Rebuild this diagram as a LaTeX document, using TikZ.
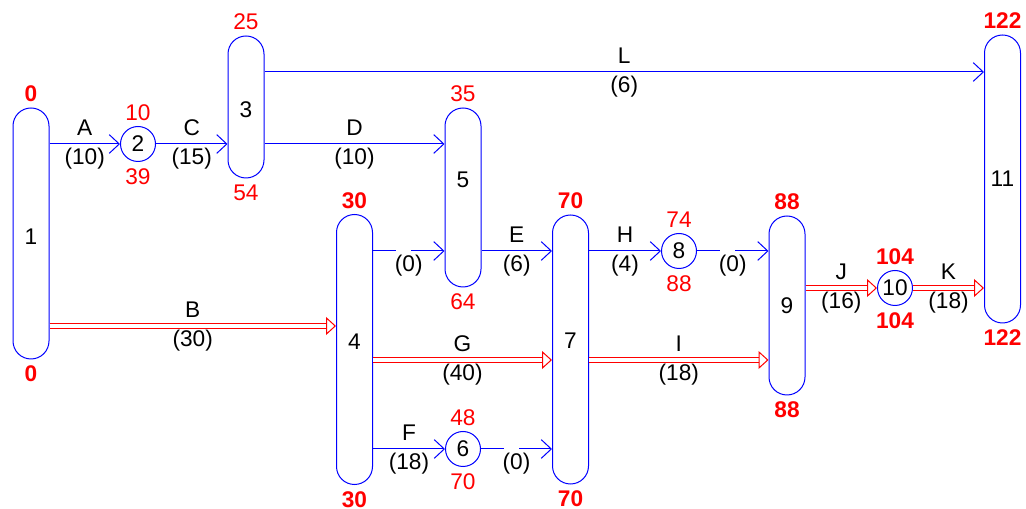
\documentclass[tikz,border=0pt]{standalone}
\usepackage{fontspec}
\setmainfont{Liberation Sans}
\usetikzlibrary{arrows.meta}

\begin{document}
\begin{tikzpicture}[
  x=0.75pt, y=-0.75pt,
  every node/.style={font=\fontsize{17}{20}\selectfont},
  evt/.style={draw=blue, line width=0.75pt, rounded corners=13.5pt, minimum width=27pt, inner sep=0pt},
  ring/.style={draw=blue, line width=0.75pt, circle, minimum size=26.25pt, inner sep=0pt},
  tup/.style={red, inner sep=1pt, label distance=3pt},
  tdn/.style={red, inner sep=0pt, label distance=4.6pt},
  crit/.style={font=\fontsize{17}{20}\selectfont\bfseries},
  lab/.style={above=6pt, inner sep=0pt},
  dur/.style={below=2.5pt, inner sep=0pt},
  act/.style={draw=blue, line width=0.75pt, -{Straight Barb[length=7.5pt, width=14pt]}},
  dummy/.style={act, dash pattern=on 17.25pt off 11.25pt on 400pt},
  cact/.style={draw=red, line width=0.75pt, double=white, double distance=3pt,
    -{Triangle[open, fill=white, length=7.5pt, width=13.5pt]}}
]
\useasboundingbox (0,0) rectangle (1026,509);

% events
\node[evt, minimum height=188.25pt, label={[tup,crit]above:0}, label={[tdn,crit]below:0},
  label={[yshift=-2.6pt]center:1}] (n1) at (31,233.5) {};
\node[ring, label={[tup]above:10}, label={[tdn]below:39}] (n2) at (138,144) {2};
\node[evt, minimum height=106.5pt, label={[tup]above:25}, label={[tdn]below:54},
  label={[yshift=-2.2pt]center:3}] (n3) at (246,107) {};
\node[evt, minimum height=202.5pt, label={[tup,crit]above:30}, label={[tdn,crit]below:30},
  label={[yshift=6pt]center:4}] (n4) at (354.5,349.5) {};
\node[evt, minimum height=134.25pt, label={[tup]above:35}, label={[tdn]below:64},
  label={[yshift=13.1pt]center:5}] (n5) at (463,197.5) {};
\node[ring, label={[tup]above:48}, label={[tdn]below:70}] (n6) at (463,449) {6};
\node[evt, minimum height=201.75pt, label={[tup,crit]above:70}, label={[tdn,crit]below:70},
  label={[yshift=6.4pt]center:7}] (n7) at (570.5,349.5) {};
\node[ring, label={[tup]above:74}, label={[tdn]below:88}] (n8) at (679,251) {8};
\node[evt, minimum height=134.25pt, label={[tup,crit]above:88}, label={[tdn,crit]below:88},
  label={center:9}] (n9) at (787,305.5) {};
\node[ring, label={[tup,crit]above:104}, label={[tdn,crit]below:104}] (n10) at (895,288) {10};
\node[evt, minimum height=216pt, label={[tup,crit]above:122}, label={[tdn,crit]below:122},
  label={center:11}] (n11) at (1002.5,179) {};

% rows without a node
\coordinate (yL) at (0,72);
\coordinate (yB) at (0,326);
\coordinate (yG) at (0,360);

% activities
\draw[act] (n1.east |- n2) -- node[lab]{A} node[dur]{(10)} (n2);
\draw[act] (n2) -- node[lab]{C} node[dur]{(15)} (n3.west |- n2);
\draw[act] (n3.east |- yL) -- node[lab]{L} node[dur]{(6)} (n11.west |- yL);
\draw[act] (n3.east |- n2) -- node[lab]{D} node[dur]{(10)} (n5.west |- n2);
\draw[cact] (n1.east |- yB) -- node[lab]{B} node[dur]{(30)} (n4.west |- yB);
\draw[dummy] (n4.east |- n8) -- node[dur]{(0)} (n5.west |- n8);
\draw[act] (n5.east |- n8) -- node[lab]{E} node[dur]{(6)} (n7.west |- n8);
\draw[cact] (n4.east |- yG) -- node[lab]{G} node[dur]{(40)} (n7.west |- yG);
\draw[act] (n4.east |- n6) -- node[lab]{F} node[dur]{(18)} (n6);
\draw[dummy] (n6) -- node[dur]{(0)} (n7.west |- n6);
\draw[act] (n7.east |- n8) -- node[lab]{H} node[dur]{(4)} (n8);
\draw[dummy] (n8) -- node[dur]{(0)} (n9.west |- n8);
\draw[cact] (n7.east |- yG) -- node[lab]{I} node[dur]{(18)} (n9.west |- yG);
\draw[cact] (n9.east |- n10) -- node[lab]{J} node[dur]{(16)} (n10);
\draw[cact] (n10) -- node[lab]{K} node[dur]{(18)} (n11.west |- n10);
\end{tikzpicture}
\end{document}
